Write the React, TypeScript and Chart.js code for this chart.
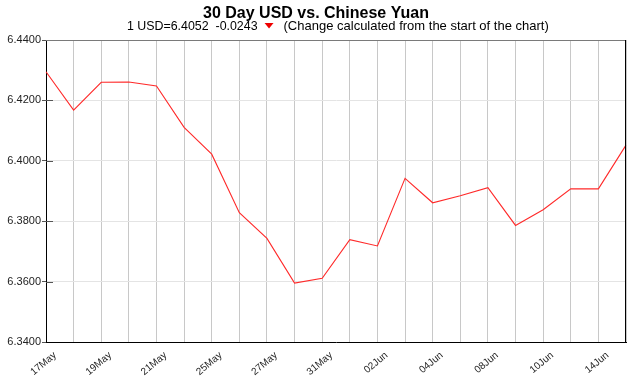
import React, { useEffect, useRef } from "react";
import { Chart, registerables } from "chart.js";

Chart.register(...registerables);

const labels = [
  "17May", "18May", "19May", "20May", "21May", "24May", "25May", "26May", "27May", "28May", "31May",
  "01Jun", "02Jun", "03Jun", "04Jun", "07Jun", "08Jun", "09Jun", "10Jun", "11Jun", "14Jun", "15Jun",
];
const rates = [
  6.4295, 6.4168, 6.4260, 6.4261, 6.4248, 6.4111, 6.4022, 6.3828, 6.3743, 6.3595, 6.3611,
  6.3739, 6.3718, 6.3942, 6.3861, 6.3884, 6.3911, 6.3786, 6.3838, 6.3907, 6.3907, 6.4052,
];
const yMin = 6.34;
const yMax = 6.44;
const yStep = 0.02;
const titleText = "30 Day USD vs. Chinese Yuan";
const subLeft = "1 USD=6.4052  -0.0243";
const subRight = "(Change calculated from the start of the chart)";

const FONT = '"Liberation Sans", Arial, sans-serif';

const decorPlugin = {
  id: "decor",
  afterDraw(chart: any) {
    const ctx = chart.ctx;
    const a = chart.chartArea;
    ctx.save();
    ctx.lineWidth = 1;
    ctx.strokeStyle = "#7a7a7a";
    ctx.beginPath();
    ctx.moveTo(a.left, Math.round(a.top) + 0.5);
    ctx.lineTo(a.right, Math.round(a.top) + 0.5);
    ctx.stroke();
    ctx.strokeStyle = "#000";
    ctx.beginPath();
    ctx.moveTo(Math.round(a.right) - 0.5, a.top);
    ctx.lineTo(Math.round(a.right) - 0.5, a.bottom);
    ctx.stroke();
    const ys = chart.scales.y;
    ctx.strokeStyle = "#555";
    ys.ticks.forEach((t: any) => {
      const py = Math.round(ys.getPixelForValue(t.value)) + 0.5;
      if (t.value > yMin + 1e-9 && t.value < yMax - 1e-9) {
        ctx.beginPath();
        ctx.moveTo(a.left, py);
        ctx.lineTo(a.left + 7, py);
        ctx.stroke();
      }
    });
    // rotated x labels (every other category)
    const xs = chart.scales.x;
    ctx.fillStyle = "#222";
    ctx.font = "10px " + FONT;
    ctx.textAlign = "right";
    ctx.textBaseline = "middle";
    labels.forEach((lab, i) => {
      if (i % 2 !== 0) return;
      const px = xs.getPixelForValue(i);
      ctx.save();
      ctx.translate(px + 9, a.bottom + 12);
      ctx.rotate((-40 * Math.PI) / 180);
      ctx.fillText(lab, 0, 0);
      ctx.restore();
    });
    // titles
    ctx.fillStyle = "#000";
    ctx.textBaseline = "alphabetic";
    ctx.textAlign = "center";
    ctx.font = "bold 16px " + FONT;
    ctx.fillText(titleText, 316, 18);
    ctx.textAlign = "left";
    let x = 127;
    ctx.font = "12.4px " + FONT;
    ctx.fillText(subLeft, x, 30);
    x += ctx.measureText(subLeft).width + 7;
    ctx.fillStyle = "#ee0000";
    ctx.beginPath();
    ctx.moveTo(x, 23);
    ctx.lineTo(x + 9, 23);
    ctx.lineTo(x + 4.5, 28.5);
    ctx.closePath();
    ctx.fill();
    ctx.fillStyle = "#000";
    x += 9 + 10;
    ctx.font = "13px " + FONT;
    ctx.fillText(subRight, x, 30);
    ctx.restore();
  },
};

export default function App() {
  const ref = useRef<HTMLCanvasElement>(null);
  useEffect(() => {
    const chart = new Chart(ref.current!, {
      type: "line",
      data: {
        labels,
        datasets: [
          {
            data: rates,
            borderColor: "#ff2a2a",
            borderWidth: 1.1,
            pointRadius: 0,
            tension: 0,
            fill: false,
          },
        ],
      },
      options: {
        responsive: false,
        animation: false,
        layout: { padding: { top: 40, right: 5, left: 0, bottom: 0 } },
        plugins: { legend: { display: false }, tooltip: { enabled: false } },
        scales: {
          x: {
            grid: { color: "#c8c8c8", drawTicks: false, tickLength: 0 },
            border: { color: "#000", width: 1 },
            afterFit: (s: any) => {
              s.height = 34;
              s.paddingLeft = 0;
              s.paddingRight = 0;
            },
            ticks: { display: false, autoSkip: false },
          },
          y: {
            min: yMin,
            max: yMax,
            grid: { color: "#e4e4e4", tickColor: "#555", tickLength: 4 },
            border: { color: "#000", width: 1 },
            afterFit: (s: any) => { s.width = 46; },
            ticks: {
              stepSize: yStep,
              padding: 1,
              color: "#222",
              font: { family: FONT, size: 11 },
              callback: (v: any) => Number(v).toFixed(4),
            },
          },
        },
      },
      plugins: [decorPlugin],
    });
    return () => chart.destroy();
  }, []);
  return (
    <div style={{ position: "absolute", left: 0, top: 0, width: 631, height: 376, background: "#fff" }}>
      <canvas ref={ref} width={631} height={376} />
    </div>
  );
}
